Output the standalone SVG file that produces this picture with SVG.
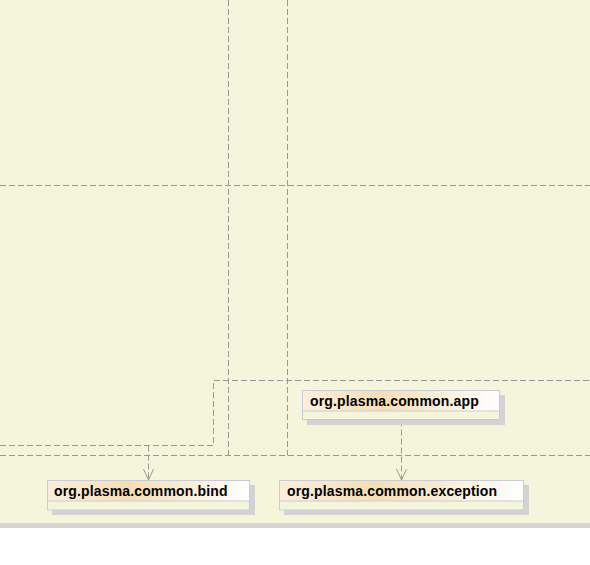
<svg xmlns="http://www.w3.org/2000/svg" width="590" height="565" viewBox="0 0 590 565">
<style>
.edge{fill:none;stroke:#999999;stroke-width:1;stroke-dasharray:6,3}
.arrow{fill:none;stroke:#999999;stroke-width:1}
.shadow{fill:#d3d3d3}
.body{fill:#f5f5dc;stroke:#c8ccd8;stroke-width:1}
.head{fill:url(#hg);stroke:#c8ccd8;stroke-width:1}
.lbl{font-family:"Liberation Sans",Arial,sans-serif;font-size:14px;font-weight:bold;fill:#000;letter-spacing:0.15px}
</style>
<defs>
<linearGradient id="hg" x1="0" y1="0" x2="1" y2="0">
<stop offset="0" stop-color="#fbefdc"/>
<stop offset="0.4" stop-color="#f5deb3"/>
<stop offset="1" stop-color="#ffffff"/>
</linearGradient>
<marker id="open" markerWidth="12" markerHeight="14" refX="11" refY="6" orient="auto" markerUnits="userSpaceOnUse">
<path d="M0,1 L11,6 L0,11" class="arrow"/>
</marker>
</defs>
<rect x="0" y="0" width="590" height="523" fill="#f5f5dc"/>
<rect x="0" y="523" width="590" height="5" fill="#d5d5d5"/>
<g id="connectors">
<path class="edge" d="M228.5,0 V455.5"/>
<path class="edge" d="M287.5,0 V455.5"/>
<path class="edge" d="M0,185.5 H590"/>
<path class="edge" d="M0,455.5 H590"/>
<path class="edge" d="M0,445.5 H213.5 V380.5 H590"/>
<path class="edge" d="M148.5,445.5 V480" marker-end="url(#open)"/>
<path class="edge" d="M401.5,420.5 V480" marker-end="url(#open)"/>
</g>
<g id="node-app">
<rect class="shadow" x="307" y="395" width="198" height="30"/>
<rect class="body" x="302.5" y="390.5" width="197" height="29"/>
<rect class="head" x="302.5" y="390.5" width="197" height="20.5"/>
<text class="lbl" x="310" y="406">org.plasma.common.app</text>
</g>
<g id="node-bind">
<rect class="shadow" x="52" y="485" width="203" height="30"/>
<rect class="body" x="47.5" y="480.5" width="202" height="29.5"/>
<rect class="head" x="47.5" y="480.5" width="202" height="20.5"/>
<text class="lbl" x="54" y="496">org.plasma.common.bind</text>
</g>
<g id="node-exception">
<rect class="shadow" x="284" y="485" width="245" height="30"/>
<rect class="body" x="279.5" y="480.5" width="244" height="29.5"/>
<rect class="head" x="279.5" y="480.5" width="244" height="20.5"/>
<text class="lbl" x="287" y="496">org.plasma.common.exception</text>
</g>
</svg>
